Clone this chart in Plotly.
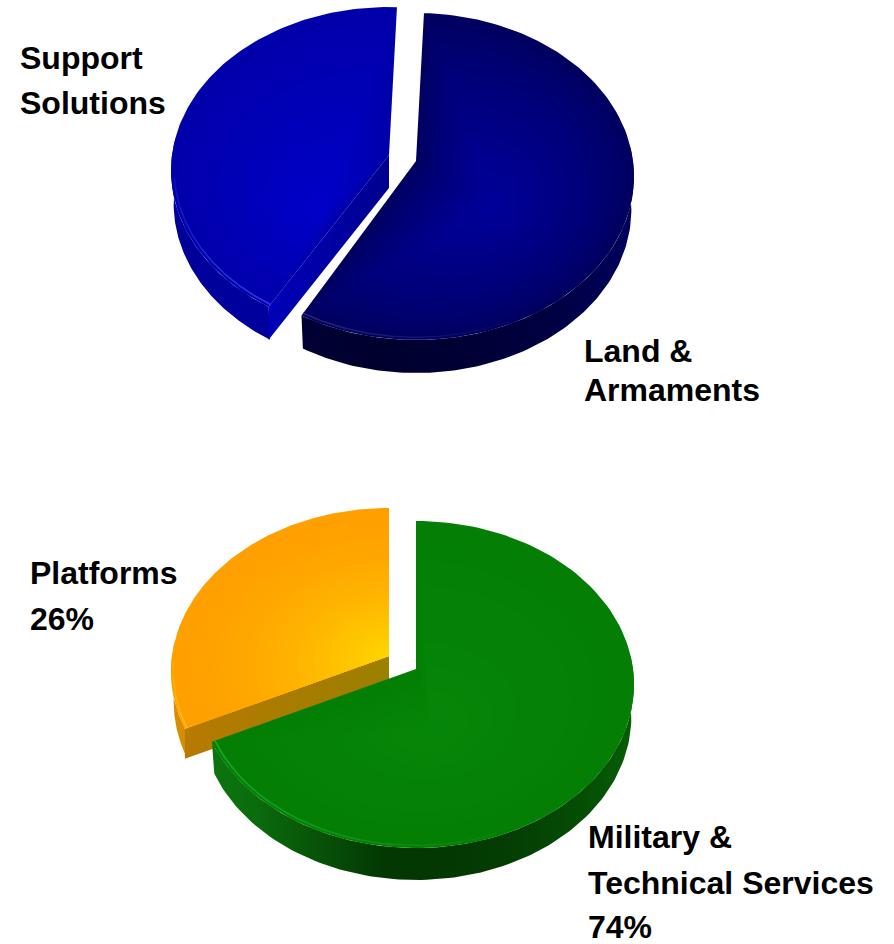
import numpy as np
import plotly.graph_objects as go

# Shares of each pie, in percent
upper_names = ["Land & Armaments", "Support Solutions"]
upper_shares = [57.4, 42.6]
lower_names = ["Military & Technical Services", "Platforms"]
lower_shares = [74, 26]

# Label lines
upper_text = ["Support", "Solutions", "Land &", "Armaments"]
lower_text = ["Platforms", "26%", "Military &", "Technical Services", "74%"]

# Perspective of the tilted disc
A, B, K = 217.0, 162.0, 0.0948


def hexrgb(c):
    return np.array([int(c[i:i + 2], 16) for i in (1, 3, 5)], float)


def mix(a, b, t):
    v = hexrgb(a) * (1 - t) + hexrgb(b) * t
    return "rgb(%d,%d,%d)" % tuple(np.round(v))


def rim(cx, cy, deg):
    """Point on the disc edge; degrees run clockwise from twelve o'clock."""
    r = np.radians(deg)
    X, Y = np.sin(r), -np.cos(r)
    w = 1 - K * Y
    return cx + A * X / w, cy + B * Y / w


def to_angle(pct, start, skew):
    """Convert a cumulative share to a rim angle under the oblique view."""
    phi = np.asarray(pct, float) * 3.6
    return start + phi + skew * np.sin(np.radians(phi))


fig = go.Figure()


def poly(x, y, fill=None, gradient=None):
    kw = dict(fillcolor=fill) if fill else dict(fillgradient=gradient)
    fig.add_trace(go.Scatter(x=x, y=y, mode="lines", fill="toself",
                             line=dict(width=0), hoverinfo="skip",
                             showlegend=False, **kw))


def hgrad(x0, x1, stops):
    n = len(stops) - 1
    return dict(type="horizontal", start=x0, stop=x1,
                colorscale=[[i / n, c] for i, c in enumerate(stops)])


def face(cx, cy, a0, a1, focus, outer, inner, steps=26, curve=1.0):
    """Top of a slice, shaded with nested copies shrinking towards a focus."""
    t = np.linspace(a0, a1, 120)
    xr, yr = rim(cx, cy, t)
    x = np.r_[cx, xr, cx]
    y = np.r_[cy, yr, cy]
    for i in range(steps):
        s = 1 - i / steps
        poly(focus[0] + (x - focus[0]) * s, focus[1] + (y - focus[1]) * s,
             fill=mix(outer, inner, (i / (steps - 1)) ** curve))


def wall(cx, cy, a0, a1, depth, stops):
    """Outer side of a slice between two rim angles."""
    t = np.linspace(a0, a1, 120)
    xr, yr = rim(cx, cy, t)
    xb = cx + (xr - cx) * 0.988
    poly(np.r_[xr, xb[::-1], xr[0]], np.r_[yr, yr[::-1] + depth, yr[0]],
         gradient=hgrad(cx - 225, cx + 225, stops))


def cut(cx, cy, a, depth, stops):
    """Flat face exposed where a slice was pulled away."""
    xr, yr = rim(cx, cy, a)
    poly([cx, xr, xr, cx, cx], [cy, yr, yr + depth, cy + depth, cy],
         gradient=hgrad(min(cx, xr), max(cx, xr), stops))


def highlight(cx, cy, a0, a1, inset, c0, c1, segs=10):
    """Thin light seam just inside the front edge, fading along the arc."""
    edges = np.linspace(a0, a1, segs + 1)
    for i in range(segs):
        t = np.linspace(edges[i], edges[i + 1], 12)
        xr, yr = rim(cx, cy, t)
        xi = cx + (xr - cx) * inset
        yi = cy + (yr - cy) * inset
        fig.add_trace(go.Scatter(x=xi, y=yi, mode="lines",
                                 line=dict(width=1.6, color=mix(c0, c1, i / (segs - 1))),
                                 hoverinfo="skip", showlegend=False))


# Upper pie
start_u = 2.3
land_end = float(to_angle(upper_shares[0], start_u, 0))
sup_start = land_end + 1.7
sup_end = float(to_angle(100, start_u, 0))
cx, cy = 416, 161
sx, sy = 389, 155
wall(sx, sy, sup_start, 275, 33, ["#000098", "#0000a0", "#0000b0", "#0000b8"])
cut(sx, sy, sup_start, 33, ["#0000b8", "#0000a4", "#00008e"])
face(sx, sy, sup_start, sup_end, (322, 215), "#0000aa", "#0000c8")
highlight(sx, sy, sup_start, 262, 0.985, "#2a38e8", "#0c10c0")
wall(cx, cy, 85, land_end, 33, ["#000048", "#000036", "#00002e", "#000034", "#000042", "#000060"])
face(cx, cy, start_u, land_end, (490, 205), "#00005e", "#000098", curve=0.7)
highlight(cx, cy, land_end, 150, 0.985, "#24247e", "#00006a")

# Lower pie
skew = 22
green_end = float(to_angle(lower_shares[0], 0, skew))
cx, cy = 416, 669
ox, oy = 389, 656
wall(ox, oy, green_end, 275, 30, ["#d89000", "#c88000", "#b87800", "#b87800"])
cut(ox, oy, green_end, 30, ["#b87a00", "#a87c00", "#9c8000"])
face(ox, oy, green_end, 360, (ox, oy), "#ffa000", "#ffd400", curve=1.7)
highlight(ox, oy, green_end, 268, 0.99, "#ffb81e", "#ffa808", segs=4)
wall(cx, cy, 85, green_end, 32,
     ["#0c7a10", "#0a6c0c", "#075208", "#033803", "#033803", "#043e04", "#054c05", "#066006"])
face(cx, cy, 0, green_end, (430, 730), "#047e04", "#068608")
highlight(cx, cy, green_end, 160, 0.985, "#14ac24", "#058808")

# Label lines, drawn as a text-only trace anchored at each line's left end
placed = [
    (upper_text[0], 20, 61), (upper_text[1], 20, 106),
    (upper_text[2], 584, 354), (upper_text[3], 584, 393),
    (lower_text[0], 30, 576), (lower_text[1], 30, 622),
    (lower_text[2], 588, 840), (lower_text[3], 588, 886), (lower_text[4], 588, 930),
]
fig.add_trace(go.Scatter(
    x=[p[1] for p in placed], y=[p[2] for p in placed],
    text=["<b>%s</b>" % p[0] for p in placed],
    mode="text", textposition="middle right", hoverinfo="skip", showlegend=False,
    textfont=dict(family="Liberation Sans", size=32, color="#000000"), cliponaxis=False,
))

fig.update_layout(
    width=894, height=944, autosize=False,
    margin=dict(l=0, r=0, t=0, b=0),
    paper_bgcolor="#ffffff", plot_bgcolor="#ffffff",
    xaxis=dict(range=[0, 894], visible=False, fixedrange=True),
    yaxis=dict(range=[944, 0], visible=False, fixedrange=True),
)
fig.write_html("out.html", config=dict(displayModeBar=False))
